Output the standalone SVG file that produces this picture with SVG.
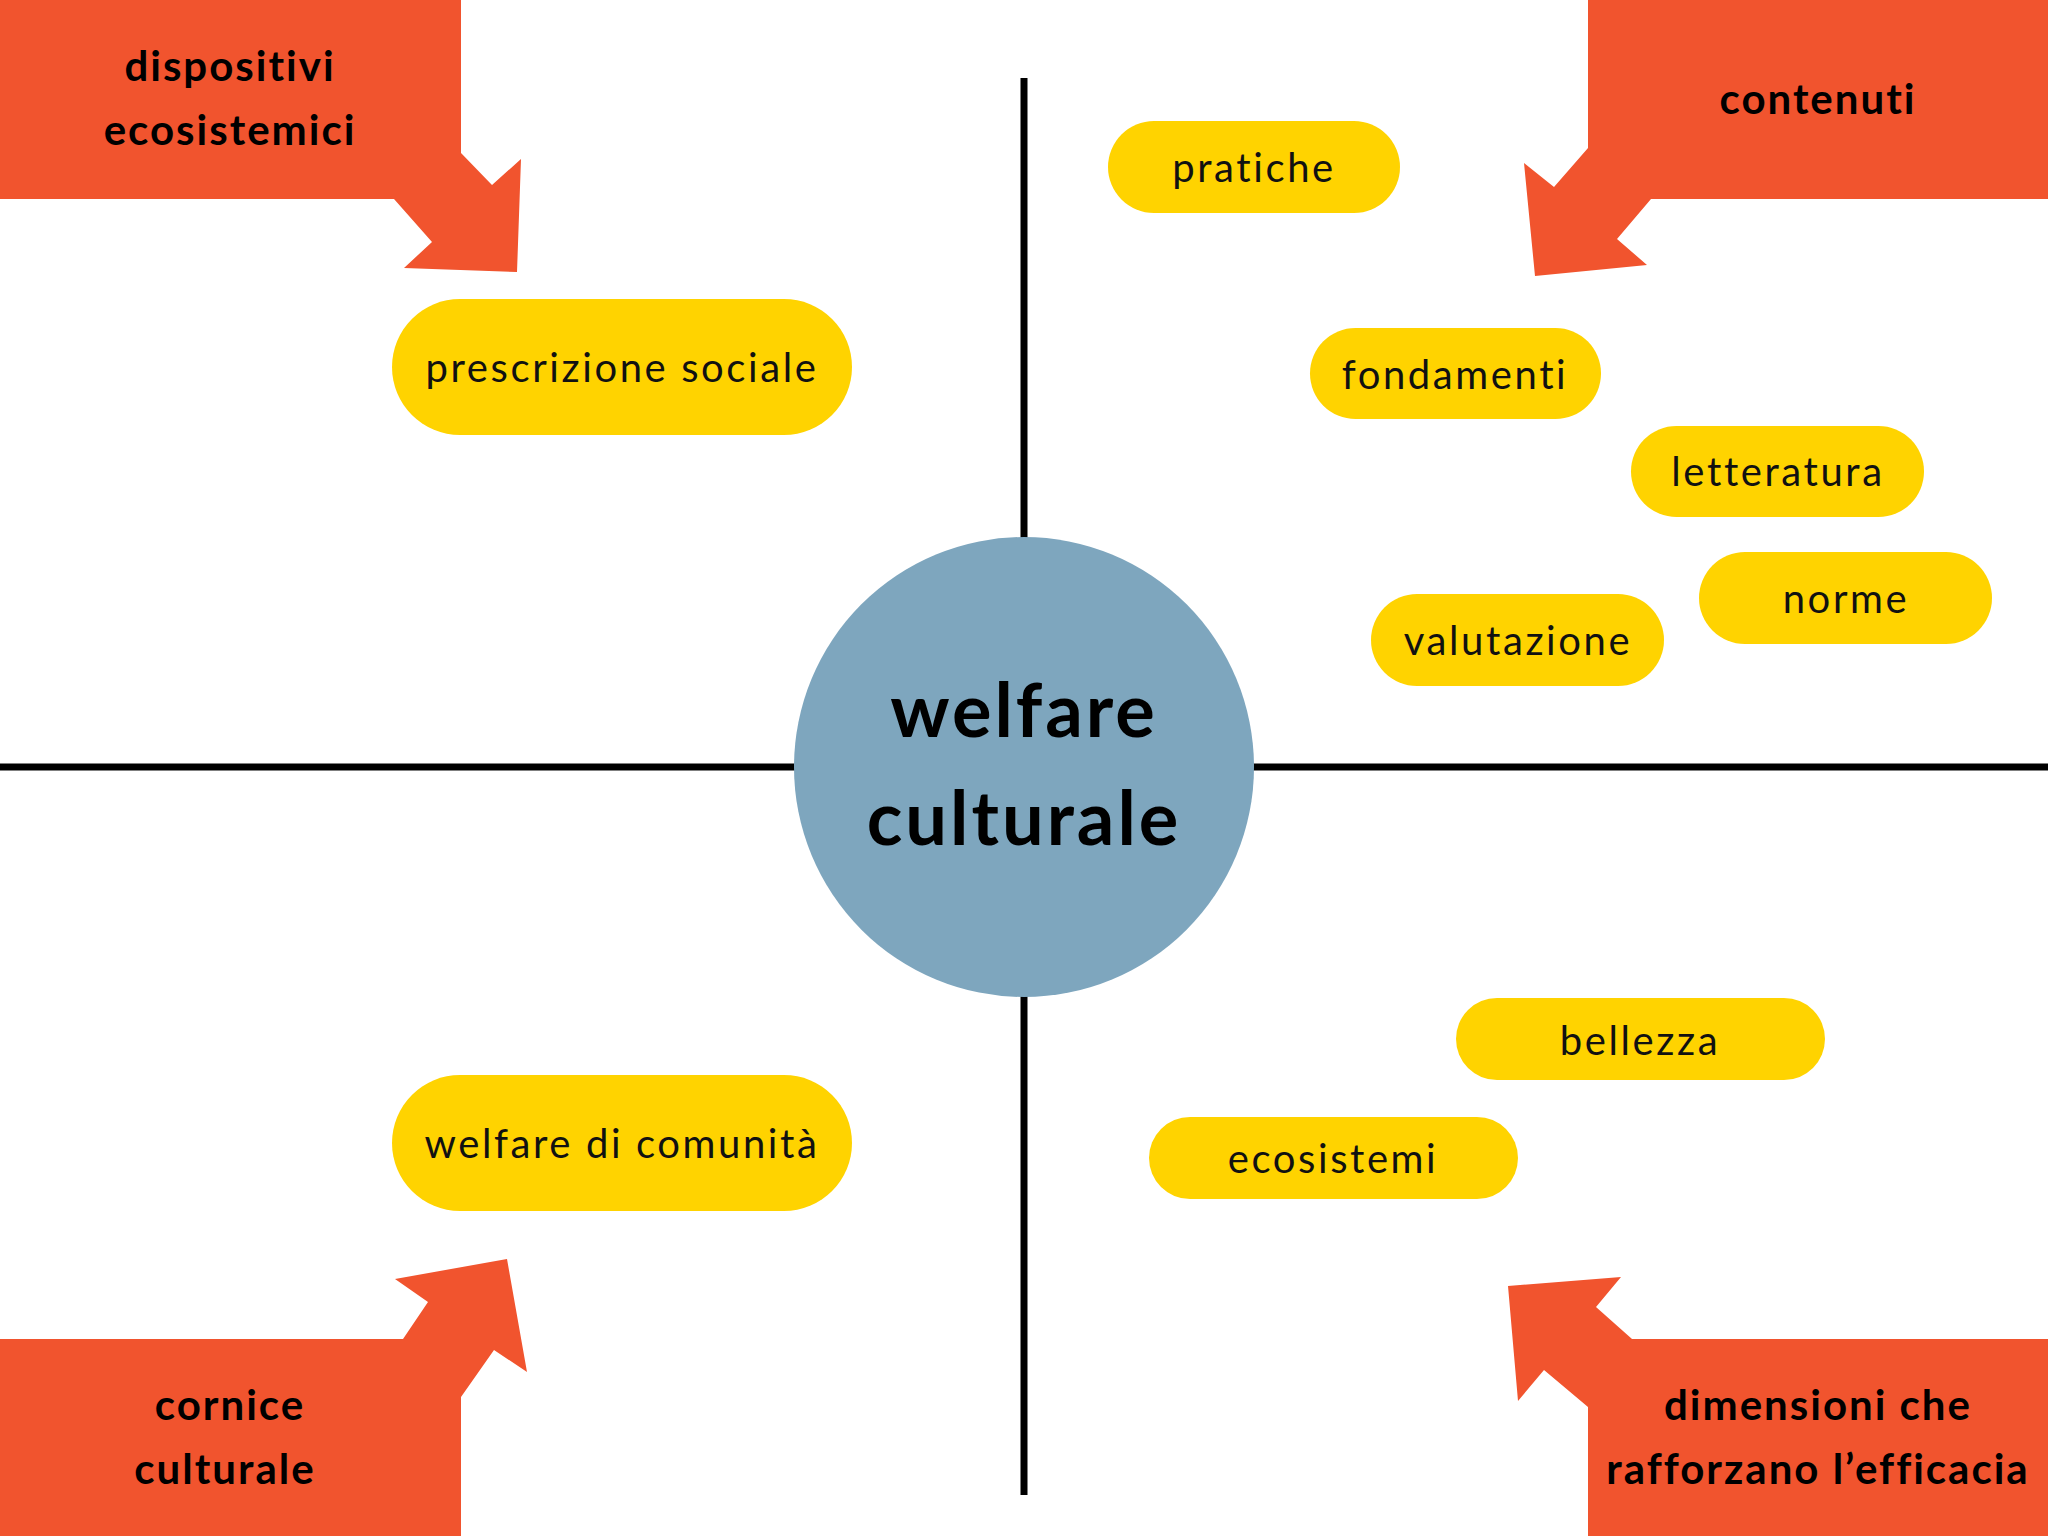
<svg xmlns="http://www.w3.org/2000/svg" width="2048" height="1536" viewBox="0 0 2048 1536">
<style>
.orange{fill:#F1542E}
.pill{fill:#FFD300}
.axis{stroke:#000;stroke-width:7;fill:none}
.lbl{font-family:Lato,"Noto Sans",sans-serif;font-weight:700;font-size:42px;letter-spacing:2px;fill:#000;text-anchor:middle}
.ptxt{font-family:Lato,"Noto Sans",sans-serif;font-weight:400;font-size:40px;letter-spacing:2.6px;fill:#111;text-anchor:middle;dominant-baseline:central}
.ctr{font-family:Lato,"Noto Sans",sans-serif;font-weight:700;font-size:74px;letter-spacing:3px;fill:#000;text-anchor:middle}
</style>
<rect width="2048" height="1536" fill="#fff"/>
<g id="connectors">
<line class="axis" x1="1024" y1="78" x2="1024" y2="1495"/>
<line class="axis" x1="0" y1="767" x2="2048" y2="767"/>
</g>
<g id="dispositivi">
<polygon class="orange" points="0,0 461,0 461,153 492,185 521,159 517,272 404,268 432,242 394,199 0,199"/>
<text class="lbl" x="230" y="81">dispositivi</text>
<text class="lbl" x="230" y="145">ecosistemici</text>
</g>
<g id="contenuti">
<polygon class="orange" points="2048,0 1588,0 1588,148 1554,187 1524,163 1535,276 1647,265 1617,239 1651,199 2048,199"/>
<text class="lbl" x="1818" y="114">contenuti</text>
</g>
<g id="cornice">
<polygon class="orange" points="0,1339 403,1339 428,1302 395,1279 507,1259 527,1372 494,1350 461,1397 461,1536 0,1536"/>
<text class="lbl" x="230" y="1420">cornice</text>
<text class="lbl" x="225" y="1484">culturale</text>
</g>
<g id="dimensioni">
<polygon class="orange" points="2048,1339 1632,1339 1596,1307 1621,1277 1508,1286 1518,1401 1544,1370 1588,1407 1588,1536 2048,1536"/>
<text class="lbl" x="1818" y="1420">dimensioni che</text>
<text class="lbl" x="1818" y="1484">rafforzano l’efficacia</text>
</g>
<g id="center">
<circle cx="1024" cy="767" r="230" fill="#7EA6BE"/>
<text class="ctr" x="1024" y="737">welfare</text>
<text class="ctr" x="1024" y="845">culturale</text>
</g>
<g id="pratiche"><rect class="pill" x="1108" y="121" width="292" height="92" rx="46"/><text class="ptxt" x="1254" y="167">pratiche</text></g>
<g id="prescrizione"><rect class="pill" x="392" y="299" width="460" height="136" rx="68"/><text class="ptxt" x="622" y="367">prescrizione sociale</text></g>
<g id="fondamenti"><rect class="pill" x="1310" y="328" width="291" height="91" rx="45.5"/><text class="ptxt" x="1455" y="374">fondamenti</text></g>
<g id="letteratura"><rect class="pill" x="1631" y="426" width="293" height="91" rx="45.5"/><text class="ptxt" x="1778" y="471">letteratura</text></g>
<g id="norme"><rect class="pill" x="1699" y="552" width="293" height="92" rx="46"/><text class="ptxt" x="1846" y="598">norme</text></g>
<g id="valutazione"><rect class="pill" x="1371" y="594" width="293" height="92" rx="46"/><text class="ptxt" x="1518" y="640">valutazione</text></g>
<g id="welfare-comunita"><rect class="pill" x="392" y="1075" width="460" height="136" rx="68"/><text class="ptxt" x="622" y="1143">welfare di comunità</text></g>
<g id="bellezza"><rect class="pill" x="1456" y="998" width="369" height="82" rx="41"/><text class="ptxt" x="1640" y="1040">bellezza</text></g>
<g id="ecosistemi"><rect class="pill" x="1149" y="1117" width="369" height="82" rx="41"/><text class="ptxt" x="1333" y="1158">ecosistemi</text></g>
</svg>
